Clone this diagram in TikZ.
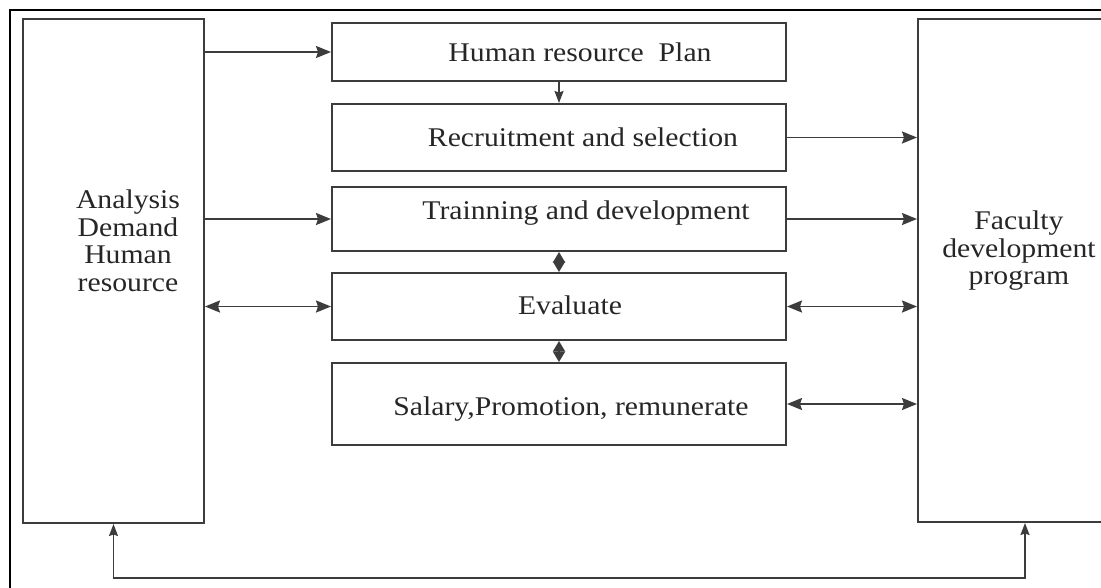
\documentclass[tikz,border=0pt]{standalone}
\usepackage{fontspec}
\setmainfont{Liberation Serif}[FakeStretch=1.1]
\usetikzlibrary{arrows.meta}
\definecolor{linec}{HTML}{3C3C3C}
\begin{document}
\begin{tikzpicture}[x=1pt,y=-1pt,
  box/.style={draw=linec, line width=2pt, inner sep=0pt, minimum width=454pt},
  txt/.style={inner sep=0pt, align=center, text=black!85, font=\fontsize{27}{27.5}\selectfont},
  conn/.style={draw=linec, line width=1.8pt, -{Stealth[length=15pt,width=12pt,inset=2pt]}},
  both/.style={draw=linec, line width=1.8pt, {Stealth[length=15pt,width=12pt,inset=2pt]}-{Stealth[length=15pt,width=12pt,inset=2pt]}},
  diam/.style={draw=linec, line width=1.8pt, {Stealth[length=10.5pt,width=12pt,inset=0pt]}-{Stealth[length=10.5pt,width=12pt,inset=0pt]}},
  small/.style={draw=linec, line width=1.5pt, {Stealth[length=12pt,width=9pt,inset=1.5pt]}-{Stealth[length=12pt,width=9pt,inset=1.5pt]}},
  smallone/.style={draw=linec, line width=1.5pt, -{Stealth[length=12pt,width=9pt,inset=1.5pt]}}]
\useasboundingbox (0,0) rectangle (1101,587);
\fill[white] (0,0) rectangle (1101,587);
% outer frame
\draw[black, line width=1.8pt] (10,600) -- (10,10) -- (1120,10);
% side boxes
\node[box, minimum width=181pt, minimum height=504pt] (L) at (113.5,271) {};
\node[box, minimum width=214pt, minimum height=503pt] (R) at (1025,270.5) {};
\node[txt] (tL) at (128,241) {Analysis\\Demand\\Human\\resource};
\node[txt] (tR) at (1019,251) {Faculty\\development\\program};
% central boxes
\node[box, minimum height=58pt] (B1) at (559,52) {};
\node[box, minimum height=67pt] (B2) at (559,137.5) {};
\node[box, minimum height=64pt] (B3) at (559,219) {};
\node[box, minimum height=67pt] (B4) at (559,306.5) {};
\node[box, minimum height=82pt] (B5) at (559,404) {};
\node[txt] (t1) at (580,52) {Human resource\ \ Plan};
\node[txt] (t2) at (583,137) {Recruitment and selection};
\node[txt] (t3) at (586,213) {Trainning and development};
\node[txt] (t4) at (570,305) {Evaluate};
\node[txt] (t5) at (571,409) {Salary,Promotion, remunerate};
% connectors
\draw[conn] (B1.west -| L.east) -- (B1.west);
\draw[smallone] (B1.south) -- (B2.north);
\draw[conn] (B2.east) -- (B2.east -| R.west);
\draw[conn] (B3.west -| L.east) -- (B3.west);
\draw[conn] (B3.east) -- (B3.east -| R.west);
\draw[diam] (B3.south) -- (B4.north);
\draw[both] (B4.west -| L.east) -- (B4.west);
\draw[both] (B4.east) -- (B4.east -| R.west);
\draw[diam] (B4.south) -- (B5.north);
\draw[both] (B5.east) -- (B5.east -| R.west);
\draw[small] (L.south) -- ++(0,54) -| (R.south);
\end{tikzpicture}
\end{document}
